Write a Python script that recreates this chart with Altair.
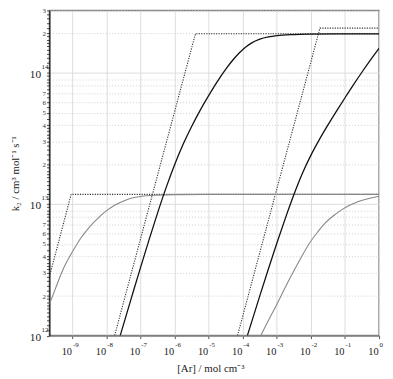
import altair as alt
import pandas as pd

# ---- values (log10 of [Ar] and of k2) ----
curve_a_logx = [-9.678, -9.5, -9.25, -9.0, -8.75, -8.517, -8.25, -8.0, -7.75, -7.5, -7.25, -7.0, -6.5, -6.0, -5.0, 0.0]
curve_a_logy = [12.24, 12.36, 12.52, 12.64, 12.745, 12.823, 12.895, 12.952, 12.995, 13.026, 13.048, 13.060, 13.070, 13.074, 13.076, 13.076]

curve_b_logx = [-7.60, -7.25, -7.0, -6.75, -6.5, -6.25, -6.0, -5.75, -5.5, -5.25, -5.0, -4.75, -4.5, -4.25, -4.0, -3.75, -3.5, -3.25, -3.0, -2.5, -2.0, -1.0, 0.0]
curve_b_logy = [12.0, 12.306, 12.522, 12.733, 12.937, 13.129, 13.304, 13.459, 13.595, 13.718, 13.830, 13.935, 14.030, 14.113, 14.180, 14.228, 14.258, 14.275, 14.285, 14.293, 14.296, 14.298, 14.299]

curve_c_logx = [-3.867, -3.5, -3.25, -3.0, -2.75, -2.5, -2.25, -2.0, -1.75, -1.5, -1.25, -1.0, -0.75, -0.5, -0.25, 0.0]
curve_c_logy = [12.0, 12.305, 12.507, 12.705, 12.895, 13.075, 13.237, 13.375, 13.495, 13.605, 13.710, 13.812, 13.912, 14.008, 14.100, 14.188]

curve_d_logx = [-3.473, -3.25, -3.019, -2.75, -2.536, -2.3, -2.055, -1.8, -1.572, -1.33, -1.089, -0.85, -0.609, -0.3, 0.0]
curve_d_logy = [12.0, 12.115, 12.229, 12.37, 12.477, 12.59, 12.70, 12.79, 12.86, 12.915, 12.96, 12.995, 13.022, 13.045, 13.062]

limit_a_logx = [-9.678, -9.04, 0.0]
limit_a_logy = [12.45, 13.076, 13.076]
limit_b_logx = [-7.764, -5.392, 0.0]
limit_b_logy = [12.0, 14.299, 14.299]
limit_c_logx = [-4.156, -1.737, 0.0]
limit_c_logy = [12.0, 14.342, 14.342]

x_tick_exponents = [-9, -8, -7, -6, -5, -4, -3, -2, -1, 0]
y_major_exponents = [12, 13, 14]
y_minor_mantissas = [1.0, 1.1, 1.2, 1.3, 1.4, 1.5, 1.6, 1.7, 1.8, 1.9,
                     2.0, 2.2, 2.4, 2.6, 2.8, 3.0, 3.2, 3.4, 3.6, 3.8,
                     4.0, 4.5, 5.0, 5.5, 6.0, 6.5, 7.0, 7.5, 8.0, 8.5, 9.0, 9.5]

FONT = "Liberation Serif"
XMIN, XMAX = 2.1e-10, 1.0
YMIN, YMAX = 1e12, 3e14


def frame(lx, ly):
    return pd.DataFrame({"x": [10 ** v for v in lx],
                         "y": [10 ** v for v in ly],
                         "o": list(range(len(lx)))})


y_tick_values = []
for d in y_major_exponents:
    for m in y_minor_mantissas:
        v = m * 10 ** d
        if v <= YMAX * 1.0001:
            y_tick_values.append(v)
y_tick_values.append(YMAX)

lg = "(log(datum.value)/LN10)"
is_decade = f"abs({lg} - round({lg})) < 0.001"
mant = f"(datum.value / pow(10, floor({lg} + 0.001)))"
is_int = f"abs({mant} - round({mant})) < 0.001"
label_expr = f"({is_int}) && round({mant}) >= 2 && round({mant}) <= 7 ? '' + round({mant}) : ''"

xscale = alt.Scale(type="log", domain=[XMIN, XMAX], nice=False)
yscale = alt.Scale(type="log", domain=[YMIN, YMAX], nice=False)

xaxis = alt.Axis(
    values=[10.0 ** e for e in x_tick_exponents],
    labels=False, ticks=True, tickSize=3, tickColor="#555", tickWidth=1,
    domainColor="#808080", domainWidth=1.5,
    grid=True, gridColor="#dcdcdc", gridWidth=1,
    title="[Ar] / mol cm⁻³", titleFont=FONT, titleFontSize=11,
    titleFontWeight="normal", titleColor="#222",
    titleX=163, titleY=33, titleBaseline="middle", titleAlign="center",
)
yaxis = alt.Axis(
    values=y_tick_values, labelExpr=label_expr, labelFont=FONT,
    labelFontSize=7, labelColor="#333", labelPadding=1,
    labelOverlap=False, labelFlush=False,
    tickSize=3, tickColor="#222", tickWidth=0.8,
    domainColor="#000", domainWidth=1,
    grid=True,
    gridColor={"condition": {"test": is_decade, "value": "#dcdcdc"}, "value": "#cfcfcf"},
    gridDash={"condition": {"test": is_decade, "value": []}, "value": [1, 2]},
    gridOpacity={"condition": {"test": is_int, "value": 1}, "value": 0},
    title="k₂ / cm³ mol⁻¹ s⁻¹", titleFont=FONT, titleFontSize=11,
    titleFontWeight="normal", titleColor="#222",
    titleX=-34, titleY=165, titleAngle=270, titleBaseline="middle", titleAlign="center",
)

x_enc = alt.X("x:Q", scale=xscale, axis=xaxis)
y_enc = alt.Y("y:Q", scale=yscale, axis=yaxis)


def line(df, color, width, dash=None, interp="monotone"):
    kw = dict(color=color, strokeWidth=width, clip=True, interpolate=interp)
    if dash is not None:
        kw["strokeDash"] = dash
    return alt.Chart(df).mark_line(**kw).encode(x=x_enc, y=y_enc, order="o:Q")


layers = [
    line(frame(limit_a_logx, limit_a_logy), "#333", 1.1, [1.2, 1.3], "linear"),
    line(frame(limit_b_logx, limit_b_logy), "#333", 1.1, [1.2, 1.3], "linear"),
    line(frame(limit_c_logx, limit_c_logy), "#333", 1.1, [1.2, 1.3], "linear"),
    line(frame(curve_a_logx, curve_a_logy), "#888", 1.1),
    line(frame(curve_d_logx, curve_d_logy), "#888", 1.1),
    line(frame(curve_b_logx, curve_b_logy), "#111", 1.3),
    line(frame(curve_c_logx, curve_c_logy), "#111", 1.3),
]

# major tick labels 10^n with raised exponents
xlab = pd.DataFrame({"x": [10.0 ** e for e in x_tick_exponents],
                     "base": ["10"] * len(x_tick_exponents),
                     "exp": [str(e) for e in x_tick_exponents]})
ylab = pd.DataFrame({"y": [10.0 ** e for e in y_major_exponents],
                     "base": ["10"] * len(y_major_exponents),
                     "exp": [str(e) for e in y_major_exponents]})

xl_base = alt.Chart(xlab).mark_text(font=FONT, fontSize=10.5, align="right", baseline="middle",
                                     dx=-0.5, color="#222").encode(
    x=alt.X("x:Q", scale=xscale), y=alt.value(346), text="base:N")
xl_exp = alt.Chart(xlab).mark_text(font=FONT, fontSize=7, align="left", baseline="middle",
                                    dx=0.5, color="#222").encode(
    x=alt.X("x:Q", scale=xscale), y=alt.value(339.5), text="exp:N")
yl_base = alt.Chart(ylab).mark_text(font=FONT, fontSize=11.5, align="right", baseline="middle",
                                     dy=2, color="#222").encode(
    y=alt.Y("y:Q", scale=yscale), x=alt.value(-8.5), text="base:N")
yl_exp = alt.Chart(ylab).mark_text(font=FONT, fontSize=7, align="left", baseline="middle",
                                    dy=-6, color="#222").encode(
    y=alt.Y("y:Q", scale=yscale), x=alt.value(-8), text="exp:N")

chart = alt.layer(*layers, xl_base, xl_exp, yl_base, yl_exp).properties(
    width=334, height=329.5,
    autosize=alt.AutoSizeParams(type="none"),
    padding={"left": 42, "top": 0, "right": 6, "bottom": 41},
).configure_view(stroke="#808080", strokeWidth=1.5)

chart.save("out.html", embed_options={"renderer": "svg", "actions": False})
